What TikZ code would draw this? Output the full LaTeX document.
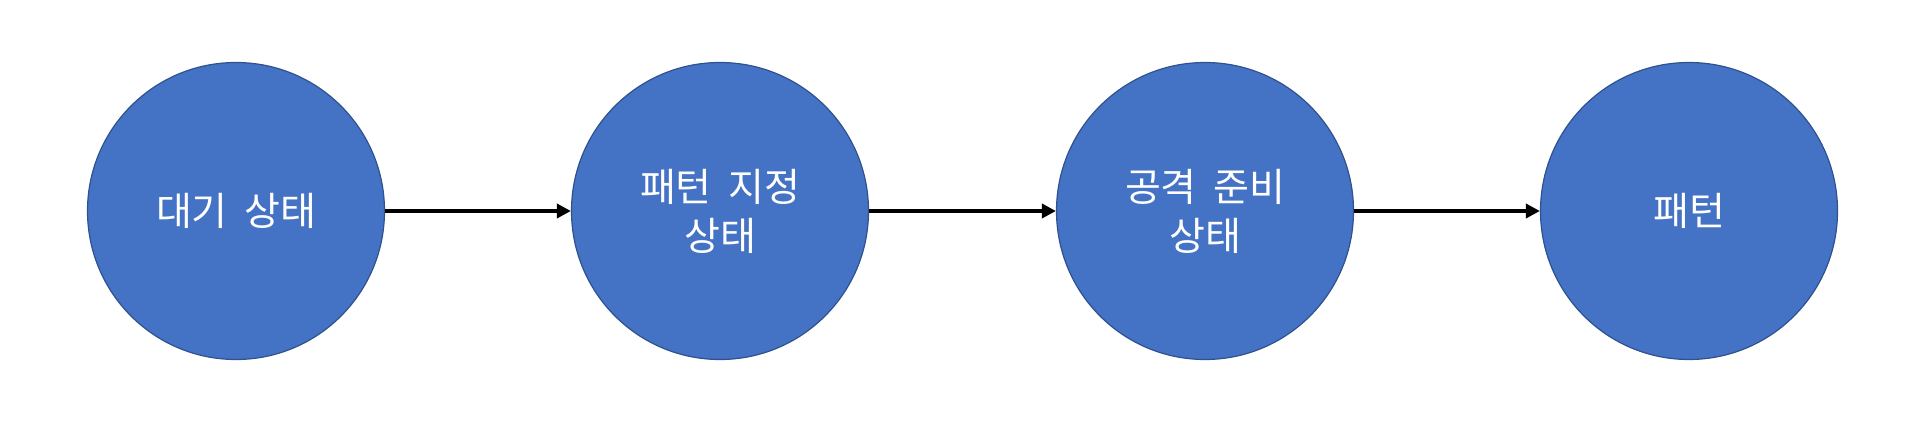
\documentclass[tikz,border=0pt]{standalone}
\usepackage{fontspec}
\newfontfamily\krfont{Noto Sans CJK KR}
\usetikzlibrary{arrows.meta}
\definecolor{ofblue}{HTML}{4472C4}
\definecolor{ofedge}{HTML}{2F528F}
\newcommand{\wsp}{\hspace{0.42em}}
\begin{document}
\begin{tikzpicture}[x=1pt,y=1pt,
  state/.style={circle, fill=ofblue, draw=ofedge, line width=1.2pt, minimum size=297pt, inner sep=0pt, text=white, font=\krfont\fontsize{39}{49}\selectfont, align=center},
  flow/.style={-{Triangle[length=14pt,width=14pt]}, line width=4.5pt}]
\useasboundingbox (0,0) rectangle (1910,431);
\node[state] (a) at (236,220) {대기\wsp 상태};
\node[state] (b) at (720,220) {패턴\wsp 지정\\상태};
\node[state] (c) at (1205,220) {공격\wsp 준비\\상태};
\node[state] (d) at (1689,220) {패턴};
\draw[flow] (a) -- (b);
\draw[flow] (b) -- (c);
\draw[flow] (c) -- (d);
\end{tikzpicture}
\end{document}
